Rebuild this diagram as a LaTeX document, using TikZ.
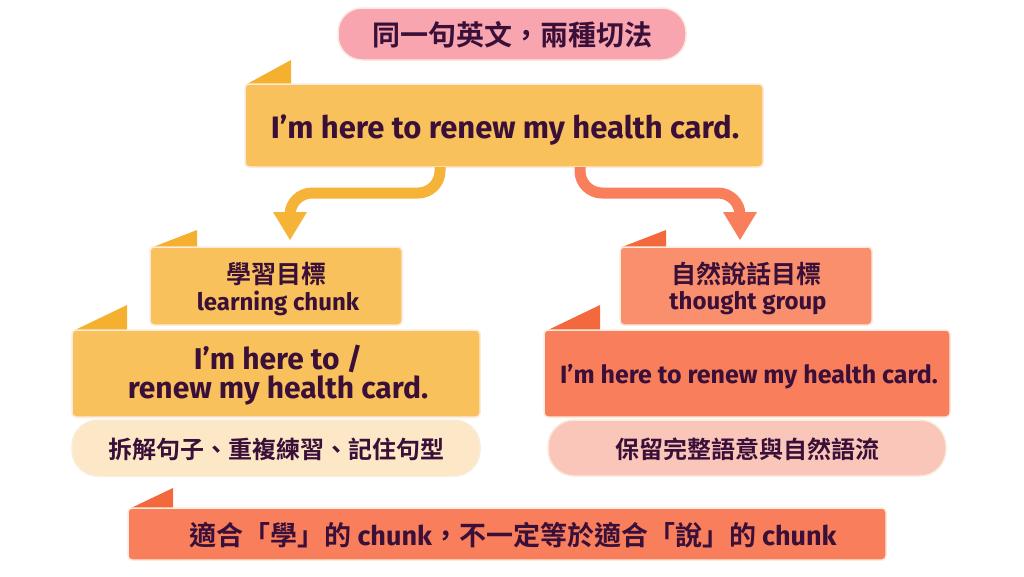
\documentclass[tikz,border=0pt]{standalone}
\usepackage{fontspec}
\setmainfont{Fira Sans}
\newfontfamily\cjk{Noto Sans CJK TC}[BoldFont={* Bold}]
\begin{document}
\definecolor{ink}{HTML}{3A1038}
\definecolor{yel}{HTML}{F9C15C}
\definecolor{yelD}{HTML}{F4B02E}
\definecolor{cor}{HTML}{F97E5C}
\definecolor{corS}{HTML}{F98F6C}
\definecolor{corD}{HTML}{F4683E}
\definecolor{pinkT}{HTML}{F8A5B0}
\definecolor{cream}{HTML}{FCE8C6}
\definecolor{pinkL}{HTML}{FBC6BA}
\definecolor{edge}{HTML}{FBEBDD}
\begin{tikzpicture}[x=1pt,y=-1pt,
  box/.style={draw=edge,line width=1.5pt,rounded corners=4pt},
  pill/.style={draw=edge,line width=1.5pt,rounded corners=26pt},
  txt/.style={text=ink,font=\bfseries,align=center},
  arr/.style={line width=11pt,rounded corners=22pt}]
\useasboundingbox (0,0) rectangle (1024,576);
% title
\filldraw[pill,fill=pinkT,rounded corners=24pt] (338,8) rectangle (686,60);
\node[txt,font=\cjk\bfseries\fontsize{28}{32}\selectfont] (title) at (512,35) {同一句英文，兩種切法};
% top banner
\fill[yelD] (247,84) -- (291,60) -- (291,84) -- cycle;
\filldraw[box,fill=yel] (245,84) rectangle (763,167);
\node[txt,font=\bfseries\fontsize{31}{34}\selectfont] (top) at (505,130) {I'm here to renew my health card.};
% arrows
\coordinate (la) at (440,167);
\coordinate (ra) at (580,167);
\draw[arr,yelD!80!yel] (la) -- (440,193) -- (290,193) -- (290,214);
\fill[yelD!80!yel] (273,212) -- (307,212) -- (290,240) -- cycle;
\draw[arr,cor] (ra) -- (580,193) -- (740,193) -- (740,214);
\fill[cor] (723,212) -- (757,212) -- (740,240) -- cycle;
% left
\fill[yelD] (153,247) -- (197,230) -- (197,247) -- cycle;
\filldraw[box,fill=yel] (150,247) rectangle (402,325);
\node[txt,font=\cjk\bfseries\fontsize{25}{28}\selectfont] (lt) at (276,274) {學習目標};
\node[txt,font=\bfseries\fontsize{24}{26}\selectfont] (ls) at (278,303) {learning chunk};
\fill[yelD] (75,330) -- (127,305) -- (127,330) -- cycle;
\filldraw[box,fill=yel] (72,330) rectangle (480,417);
\node[txt,font=\bfseries\fontsize{30}{29}\selectfont] (lb) at (278,375) {I'm here to /\\renew my health card.};
\filldraw[pill,fill=cream] (72,420) rectangle (480,476);
\node[txt,font=\cjk\bfseries\fontsize{24}{28}\selectfont] (lp) at (276,449) {拆解句子、重複練習、記住句型};
% right
\fill[corD] (622,247) -- (666,230) -- (666,247) -- cycle;
\filldraw[box,fill=corS] (620,247) rectangle (872,325);
\node[txt,font=\cjk\bfseries\fontsize{25}{28}\selectfont] (rt) at (746,274) {自然說話目標};
\node[txt,font=\bfseries\fontsize{24}{26}\selectfont] (rs) at (748,303) {thought group};
\fill[corD] (548,330) -- (600,305) -- (600,330) -- cycle;
\filldraw[box,fill=cor] (544,330) rectangle (950,417);
\node[txt,font=\bfseries\fontsize{25}{28}\selectfont] (rb) at (749,377) {I'm here to renew my health card.};
\filldraw[pill,fill=pinkL] (548,420) rectangle (946,476);
\node[txt,font=\cjk\bfseries\fontsize{24}{28}\selectfont] (rp) at (747,449) {保留完整語意與自然語流};
% bottom
\fill[corD] (131,508) -- (173,488) -- (173,508) -- cycle;
\filldraw[box,fill=cor] (128,508) rectangle (886,560);
\node[txt,font=\cjk\bfseries\fontsize{27}{30}\selectfont] (bot) at (513,535) {適合「學」的 {\fontspec{Fira Sans}\bfseries chunk}，不一定等於適合「說」的 {\fontspec{Fira Sans}\bfseries chunk}};
\end{tikzpicture}
\end{document}
